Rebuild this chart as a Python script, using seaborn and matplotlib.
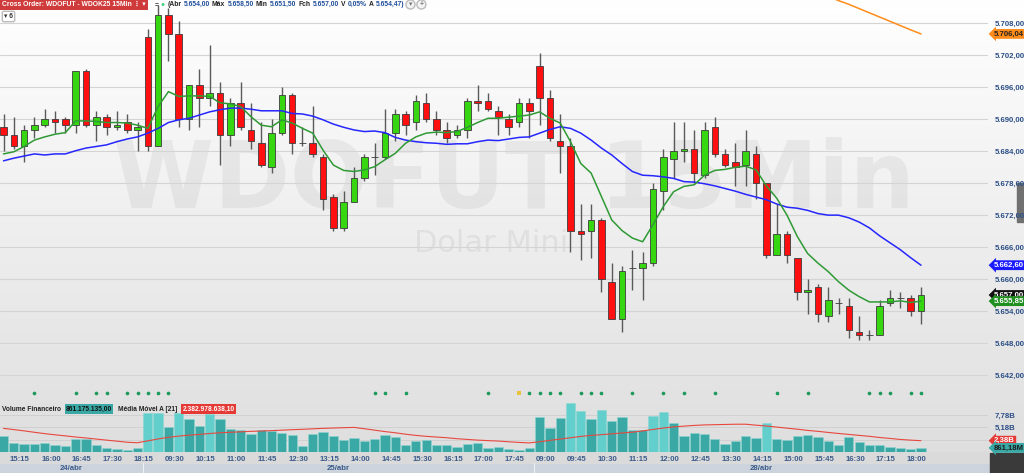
import matplotlib.pyplot as plt
import numpy as np
import pandas as pd
import seaborn as sns
from matplotlib.patches import Rectangle
from matplotlib.transforms import blended_transform_factory

# ---- dados (WDOFUT 15Min) ----
inicio_dias = ["2025-04-24 15:00", "2025-04-25 09:00", "2025-04-28 09:00"]
nomes_dias = ["24/abr", "25/abr", "28/abr"]
candles_por_dia = [14, 38, 38]
rotulos_por_dia = [
    ["15:15", "16:00", "16:45", "17:30", "18:15"],
    ["09:30", "10:15", "11:00", "11:45", "12:30", "13:15", "14:00", "14:45",
     "15:30", "16:15", "17:00", "17:45"],
    ["09:00", "09:45", "10:30", "11:15", "12:00", "12:45", "13:30", "14:15",
     "15:00", "15:45", "16:30", "17:15", "18:00"],
]

abertura = [5688.5, 5687.0, 5685.0, 5688.0, 5689.0, 5690.0, 5690.0, 5689.0, 5699.0, 5689.0,
            5690.5, 5688.5, 5689.5, 5688.0, 5705.5, 5685.0, 5709.5, 5706.0, 5690.0, 5696.5,
            5694.0, 5695.0, 5687.0, 5693.0, 5688.0, 5685.5, 5681.0, 5687.5, 5694.5, 5685.5,
            5685.5, 5683.0, 5675.5, 5669.5, 5674.5, 5679.0, 5683.0, 5683.0, 5687.5, 5691.0,
            5689.5, 5693.0, 5690.0, 5688.0, 5687.0, 5688.0, 5693.5, 5693.5, 5691.5, 5690.0,
            5689.5, 5693.0, 5700.0, 5694.0, 5686.0, 5685.0, 5669.0, 5669.0, 5671.0, 5659.5,
            5652.5, 5662.0, 5662.0, 5663.0, 5676.5, 5682.5, 5684.0, 5684.5, 5679.5, 5688.5,
            5683.5, 5682.0, 5681.5, 5683.5, 5678.0, 5664.5, 5668.5, 5664.0, 5657.5, 5658.5,
            5653.0, 5655.5, 5655.0, 5650.0, 5649.5, 5649.5, 5655.5, 5656.5, 5656.5, 5654.0]
maxima = [5691.0, 5690.5, 5689.0, 5690.5, 5692.0, 5691.5, 5690.5, 5699.0, 5699.5, 5691.5,
          5691.0, 5691.5, 5691.0, 5689.5, 5707.0, 5711.5, 5711.0, 5708.5, 5696.5, 5699.5,
          5704.0, 5697.0, 5694.0, 5697.0, 5693.0, 5689.5, 5690.0, 5696.0, 5695.0, 5688.5,
          5692.5, 5683.5, 5676.0, 5676.5, 5681.0, 5683.5, 5685.5, 5692.0, 5692.0, 5691.5,
          5694.5, 5695.0, 5691.5, 5689.5, 5689.0, 5694.0, 5696.5, 5695.0, 5692.5, 5691.0,
          5694.0, 5694.0, 5702.5, 5695.5, 5691.0, 5686.5, 5674.0, 5674.0, 5671.5, 5663.0,
          5662.5, 5665.5, 5665.0, 5678.0, 5684.5, 5689.5, 5689.5, 5688.0, 5689.5, 5690.5,
          5684.5, 5685.5, 5688.0, 5685.0, 5678.0, 5674.0, 5669.0, 5664.0, 5660.0, 5659.0,
          5658.5, 5656.5, 5656.5, 5653.0, 5650.5, 5656.0, 5658.0, 5657.5, 5657.0, 5658.5]
minima = [5684.0, 5684.5, 5682.0, 5686.5, 5688.5, 5687.5, 5687.5, 5687.5, 5688.5, 5686.0,
          5687.0, 5688.0, 5687.5, 5684.0, 5684.0, 5685.0, 5701.0, 5688.5, 5688.0, 5688.5,
          5692.5, 5681.5, 5685.0, 5688.0, 5684.5, 5681.0, 5680.0, 5687.0, 5683.5, 5685.0,
          5683.0, 5673.0, 5669.0, 5669.0, 5674.5, 5678.5, 5679.5, 5682.5, 5686.0, 5687.0,
          5688.0, 5689.5, 5687.0, 5685.5, 5686.5, 5686.5, 5691.5, 5691.5, 5687.0, 5687.0,
          5688.5, 5686.5, 5689.0, 5686.0, 5680.0, 5665.0, 5663.5, 5664.0, 5657.5, 5652.5,
          5650.0, 5658.0, 5656.0, 5662.5, 5673.0, 5679.0, 5682.0, 5678.0, 5679.0, 5683.0,
          5681.0, 5677.5, 5677.5, 5675.0, 5664.0, 5664.5, 5663.0, 5656.0, 5653.5, 5652.0,
          5652.0, 5653.5, 5649.0, 5648.5, 5648.5, 5649.5, 5655.0, 5654.5, 5653.0, 5651.5]
fechamento = [5687.0, 5685.0, 5688.0, 5689.0, 5690.0, 5689.5, 5689.0, 5699.0, 5689.0, 5690.5,
              5688.5, 5689.0, 5688.0, 5688.5, 5685.0, 5709.5, 5706.0, 5690.0, 5696.5, 5694.0,
              5695.0, 5687.0, 5693.0, 5688.5, 5686.0, 5681.5, 5687.5, 5694.5, 5685.5, 5685.5,
              5683.5, 5675.0, 5669.5, 5674.5, 5679.0, 5683.0, 5683.0, 5687.5, 5691.0, 5689.0,
              5693.5, 5690.0, 5688.0, 5686.5, 5688.0, 5693.5, 5693.0, 5692.0, 5690.5, 5688.5,
              5693.0, 5691.5, 5694.0, 5686.5, 5685.0, 5669.0, 5668.5, 5671.0, 5660.0, 5652.5,
              5661.5, 5662.0, 5663.0, 5677.0, 5683.0, 5684.0, 5684.5, 5680.0, 5688.0, 5683.5,
              5681.5, 5681.0, 5684.0, 5678.0, 5664.5, 5668.5, 5664.5, 5657.5, 5658.0, 5653.5,
              5656.0, 5655.5, 5650.5, 5649.5, 5649.5, 5655.0, 5656.5, 5656.5, 5654.0, 5657.0]

media_curta = [5683.5, 5683.9, 5684.9, 5686.1, 5686.7, 5687.2, 5687.5, 5689.7, 5689.7, 5689.6,
               5689.4, 5689.4, 5689.3, 5688.9, 5688.3, 5692.4, 5695.2, 5694.3, 5694.4, 5694.4,
               5694.3, 5693.1, 5692.9, 5692.4, 5690.5, 5688.9, 5688.6, 5689.9, 5689.3, 5688.3,
               5687.4, 5684.2, 5681.4, 5680.4, 5680.2, 5680.5, 5681.1, 5682.4, 5683.6, 5685.5,
               5686.7, 5687.4, 5687.6, 5687.5, 5687.7, 5688.5, 5689.4, 5690.2, 5690.2, 5690.4,
               5690.6, 5690.8, 5691.4, 5690.2, 5689.3, 5685.8, 5681.7, 5679.9, 5675.5, 5671.1,
               5669.1, 5667.7, 5667.0, 5670.2, 5673.6, 5676.4, 5677.4, 5677.7, 5679.5, 5680.4,
               5680.6, 5681.0, 5681.2, 5680.5, 5677.5, 5675.2, 5672.0, 5668.0, 5664.8, 5663.0,
               5661.4, 5659.5, 5657.9, 5656.7, 5655.7, 5655.7, 5655.7, 5655.9, 5655.6, 5655.85]
media_longa = [5682.2, 5682.7, 5683.1, 5683.5, 5683.3, 5683.5, 5683.5, 5684.1, 5684.6, 5684.9,
               5685.2, 5685.8, 5686.3, 5686.7, 5687.4, 5688.3, 5689.4, 5689.9, 5690.2, 5690.8,
               5691.4, 5691.8, 5692.1, 5692.1, 5691.9, 5691.6, 5691.6, 5691.6, 5691.1, 5691.0,
               5690.6, 5689.9, 5689.1, 5688.5, 5688.0, 5687.7, 5687.8, 5687.5, 5686.6, 5686.1,
               5685.8, 5685.6, 5685.5, 5685.3, 5685.4, 5685.4, 5685.8, 5686.1, 5686.0, 5686.3,
               5686.6, 5686.7, 5687.4, 5688.1, 5688.6, 5688.3, 5687.4, 5686.1, 5684.6, 5683.3,
               5681.7, 5680.2, 5679.5, 5679.4, 5679.2, 5678.9, 5678.3, 5678.2, 5677.9, 5677.5,
               5677.0, 5676.5, 5675.9, 5675.4, 5674.9, 5674.1, 5673.5, 5673.3, 5672.9, 5672.3,
               5672.0, 5672.0, 5671.5, 5670.7, 5669.6, 5668.1, 5666.8, 5665.5, 5664.0, 5662.6]
inicio_laranja = 80
media_laranja = [5713.1, 5712.3, 5711.6, 5710.8, 5710.0, 5709.2, 5708.4, 5707.6, 5706.8, 5706.04]

volume_bi = [3.34, 1.93, 1.65, 1.65, 2.00, 1.37, 1.16, 2.70, 2.64, 1.50,
             0.80, 0.66, 0.44, 0.80, 8.27, 8.27, 5.31, 8.27, 6.87, 5.52,
             7.99, 6.87, 4.82, 4.67, 3.76, 4.61, 4.46, 4.04, 3.55, 1.23,
             3.83, 4.25, 3.34, 2.49, 2.85, 2.35, 2.64, 3.49, 3.13, 1.50,
             2.28, 2.43, 1.50, 1.50, 0.95, 1.65, 2.00, 0.74, 1.01, 0.55,
             0.40, 0.80, 7.42, 5.10, 7.08, 10.25, 8.69, 6.87, 8.90, 6.51,
             7.42, 4.54, 4.61, 7.63, 8.48, 6.15, 3.40, 4.04, 3.76, 2.77,
             1.71, 2.28, 3.40, 2.92, 6.15, 2.77, 2.56, 3.34, 3.61, 3.13,
             2.35, 1.37, 3.13, 2.07, 1.37, 1.37, 1.08, 0.74, 0.59, 0.86]
volume_media_bi = [4.97, 4.72, 4.45, 4.15, 3.87, 3.62, 3.40, 3.15, 2.95, 2.72,
                   2.50, 2.28, 2.05, 1.95, 2.35, 2.75, 3.10, 3.35, 3.55, 3.70,
                   3.90, 4.05, 4.15, 4.25, 4.35, 4.42, 4.50, 4.60, 4.70, 4.78,
                   4.88, 4.98, 5.05, 5.12, 5.18, 4.90, 4.60, 4.30, 4.05, 3.75,
                   3.50, 3.30, 3.15, 3.00, 2.80, 2.65, 2.50, 2.40, 2.30, 2.15,
                   2.02, 1.92, 2.15, 2.45, 2.72, 3.00, 3.28, 3.50, 3.65, 3.82,
                   4.00, 4.17, 4.45, 4.75, 5.05, 5.28, 5.45, 5.60, 5.70, 5.75,
                   5.80, 5.85, 5.85, 5.65, 5.47, 5.25, 5.02, 4.80, 4.55, 4.35,
                   4.12, 3.90, 3.70, 3.50, 3.30, 3.05, 2.85, 2.64, 2.50, 2.38]
volume_forte = [14, 15, 17, 20, 55, 56, 58, 63, 64, 74]
sinais_verdes = [3, 7, 9, 10, 12, 13, 14, 15, 16, 36, 37, 39, 47, 51, 52, 53, 54, 56, 57, 58,
                 61, 64, 66, 69, 75, 78, 84, 85, 86, 88, 89]
sinais_amarelos = [50]

# ---- montagem ----
horas = []
for ini, n in zip(inicio_dias, candles_por_dia):
    horas += list(pd.date_range(ini, periods=n, freq="15min"))
df = pd.DataFrame({"hora": horas, "abertura": abertura, "maxima": maxima, "minima": minima,
                   "fechamento": fechamento, "volume": volume_bi, "media_vol": volume_media_bi,
                   "curta": media_curta, "longa": media_longa})
df["x"] = np.arange(len(df))

W, H = 1024, 473
XMIN, XMAX = -0.34, 95.5
sns.set_theme(style="white")
plt.rcParams["font.family"] = ["Liberation Sans", "DejaVu Sans"]

fig = plt.figure(figsize=(W / 100, H / 100), dpi=100)

# fundo em degrade (branco no topo, cinza embaixo)
bg = fig.add_axes([0, 0, 1, 1], zorder=-5)
grad = np.linspace(0.0, 1.0, 256).reshape(-1, 1)
bg.imshow(grad, aspect="auto", cmap=sns.blend_palette(["#dddddd", "#ffffff"], as_cmap=True),
          extent=[0, 1, 0, 1], origin="lower")
bg.set_xlim(0, 1)
bg.set_ylim(0, 1)
bg.axis("off")
fig.add_artist(Rectangle((0, 0), 1, 10.5 / H, transform=fig.transFigure, color="#ccd3dc", zorder=-4))
fig.add_artist(Rectangle((0, 10.5 / H), 1, 10.5 / H, transform=fig.transFigure, color="#dadada", zorder=-4))
fig.add_artist(Rectangle((990 / W, 0), 34 / W, 20 / H, transform=fig.transFigure, color="#3a3a3a", zorder=-3))
fig.add_artist(Rectangle((1017 / W, 1 - 222 / H), 7 / W, 39 / H, transform=fig.transFigure,
                         color="#707070", zorder=-3))

AX_R = 988 / W
ax = fig.add_axes([0, 1 - 400 / H, AX_R, 400 / H])
axv = fig.add_axes([0, 1 - 452 / H, AX_R, 52 / H])
for a in (ax, axv):
    a.set_facecolor("none")
    for s in a.spines.values():
        s.set_visible(False)
    a.set_axisbelow(True)

# marca d'agua
ax.text(0.52, 0.545, "WDOFUT 15Min", transform=ax.transAxes, ha="center", va="center",
        fontsize=66, fontweight="bold", family="DejaVu Sans", color="black", alpha=0.05, zorder=0.5)
ax.text(0.497, 0.3925, "Dolar Mini", transform=ax.transAxes, ha="center", va="center",
        fontsize=22, family="DejaVu Sans", color="black", alpha=0.055, zorder=0.5)

# candles
verde, vermelho = "#36d611", "#ff0f0f"
ax.vlines(df["x"], df["minima"], df["maxima"], color="#5a5a5a", lw=1.0, zorder=2)
alta = df["fechamento"] >= df["abertura"]
cores = np.where(alta, verde, vermelho)
base = df[["abertura", "fechamento"]].min(axis=1)
altura = (df["fechamento"] - df["abertura"]).abs()
ax.bar(df["x"], altura, bottom=base, width=0.64, color=cores, edgecolor="#3c3c3c", lw=0.6, zorder=3)

# medias
sns.lineplot(x=df["x"], y=df["longa"], ax=ax, color="#2626ff", lw=1.1, sort=False, zorder=4)
sns.lineplot(x=df["x"], y=df["curta"], ax=ax, color="#2f9a35", lw=1.1, sort=False, zorder=4)
sns.lineplot(x=np.arange(inicio_laranja, inicio_laranja + len(media_laranja)), y=media_laranja,
             ax=ax, color="#ff8c1a", lw=1.1, zorder=4)

# sinais
nivel_sinal = 5638.6
sns.scatterplot(x=sinais_verdes, y=[nivel_sinal] * len(sinais_verdes), ax=ax, color="#1f9a5c",
                s=7, linewidth=0, zorder=5)
sns.scatterplot(x=sinais_amarelos, y=[nivel_sinal] * len(sinais_amarelos), ax=ax, color="#e8c23a",
                s=9, marker="s", linewidth=0, zorder=5)
ax.set_ylim(5637.28, 5712.41)
ax.set_xlim(XMIN, XMAX)
ax.set_xlabel("")
ax.set_ylabel("")


def br(v, casas=2):
    return f"{v:,.{casas}f}".replace(",", "X").replace(".", ",").replace("X", ".")


niveis = np.arange(5642, 5709, 6)
ax.set_yticks(niveis)
ax.set_yticklabels([br(v) for v in niveis])
ax.yaxis.tick_right()
ax.tick_params(axis="y", length=0, pad=5, labelsize=5.6, labelcolor="#2c4f86")
for t in ax.get_yticklabels():
    t.set_fontweight("bold")
ax.set_xticks([])
ax.grid(axis="y", color="#d4d4d4", lw=0.8)

# etiquetas de preco a direita
trans = blended_transform_factory(ax.transAxes, ax.transData)
etiquetas = [(media_laranja[-1], "#ff8c1a", "#222222"), (media_longa[-1], "#1a1aff", "white"),
             (fechamento[-1], "#111111", "white"), (media_curta[-1], "#1f8f1f", "white")]
for v, fundo, cor in etiquetas:
    ax.text(1.006, v, br(v), transform=trans, ha="left", va="center", fontsize=5.6,
            fontweight="bold", color=cor, clip_on=False, zorder=6,
            bbox=dict(boxstyle="larrow,pad=0.18", fc=fundo, ec="none"))

# volume
cores_vol = ["#62cfcc" if i in volume_forte else "#3aa9a5" for i in df["x"]]
axv.bar(df["x"], df["volume"], width=0.9, color=cores_vol, edgecolor="#8ad6d3", lw=0.4, zorder=2)
sns.lineplot(x=df["x"], y=df["media_vol"], ax=axv, color="#e8473e", lw=0.8, sort=False, zorder=3)
axv.set_xlim(XMIN, XMAX)
axv.set_ylim(0, 10.95)
axv.set_xlabel("")
axv.set_ylabel("")
axv.set_yticks([2.594, 5.18, 7.78])
axv.set_yticklabels(["", "5,18B", "7,78B"])
axv.yaxis.tick_right()
axv.tick_params(axis="y", length=0, pad=5, labelsize=5.6, labelcolor="#2c4f86")
for t in axv.get_yticklabels():
    t.set_fontweight("bold")
axv.grid(axis="y", color="#d0d0d0", lw=0.7)
transv = blended_transform_factory(axv.transAxes, axv.transData)
for v, txt, fundo, cor in [(volume_media_bi[-1], "2,38B", "#e53935", "white"),
                           (volume_bi[-1], "861,18M", "#3aa9a5", "#1b1b1b")]:
    axv.text(1.006, v, txt, transform=transv, ha="left", va="center", fontsize=5.6,
             fontweight="bold", color=cor, clip_on=False, zorder=6,
             bbox=dict(boxstyle="larrow,pad=0.18", fc=fundo, ec="none"))

# eixo do tempo
deslocamento_rotulo = 0.6
pos, rot = [], []
ini = 0
for n, rotulos in zip(candles_por_dia, rotulos_por_dia):
    for i in range(ini, ini + n):
        h = df["hora"][i].strftime("%H:%M")
        if h in rotulos:
            pos.append(i + deslocamento_rotulo)
            rot.append(h)
    ini += n
axv.set_xticks(pos)
axv.set_xticklabels(rot)
axv.tick_params(axis="x", length=0, pad=3, labelsize=5.6, labelcolor="#3b5b8a")
for t in axv.get_xticklabels():
    t.set_fontweight("bold")

limites = [XMIN] + list(np.cumsum(candles_por_dia)[:-1] - 0.5) + [XMAX]
tdia = blended_transform_factory(axv.transData, fig.transFigure)
for k, nome in enumerate(nomes_dias):
    c = (limites[k] + limites[k + 1]) / 2
    axv.text(c, 1 - 468.5 / H, nome, transform=tdia, ha="center", va="center", fontsize=5.6,
             fontweight="bold", color="#3b5b8a", clip_on=False)
    if k > 0:
        axv.plot([limites[k]] * 2, [0, 10.5 / H], transform=tdia, color="#eef1f5", lw=0.8,
                 clip_on=False)

# cabecalhos em serie
fig.canvas.draw()
rend = fig.canvas.get_renderer()


def em_serie(x_px, y_px, partes, gap=3, tam=4.9):
    x = x_px
    for txt, cor, extra in partes:
        caixa = "bbox" in extra
        t = fig.text((x + (2 if caixa else 0)) / W, 1 - y_px / H, txt, color=cor, ha="left",
                     va="center", fontsize=tam, fontweight="bold", **extra)
        bb = t.get_window_extent(renderer=rend)
        x = bb.x1 + gap + (3 if caixa else 0)
    return x


fim = em_serie(0, 4.5, [("Cross Order: WDOFUT - WDOK25 15Min \u22ee \u25be", "white",
                         dict(bbox=dict(boxstyle="square,pad=0.3", fc="#cf3b3b", ec="none")))])
azul = "#1f4e9c"
em_serie(max(fim + 3, 143), 4.5,
         [("=", "#333333", {}), ("\u25cf", "#3ccf7a", {}), ("(Abr", "#222222", {}),
          ("5.654,00", azul, {}), ("Máx", "#222222", {}), ("5.658,50", azul, {}),
          ("Min", "#222222", {}), ("5.651,50", azul, {}), ("Fch", "#222222", {}),
          ("5.657,00", azul, {}), ("V", "#222222", {}), ("0,05%", azul, {}),
          ("A", "#222222", {}), ("5.654,47)", azul, {}),
          ("\u25be", "#777777", dict(bbox=dict(boxstyle="circle,pad=0.15", fc="#f4f4f4", ec="#bbbbbb"))),
          ("+", "#777777", dict(bbox=dict(boxstyle="circle,pad=0.15", fc="#f4f4f4", ec="#bbbbbb")))],
         gap=2.2)
em_serie(2, 16.5, [("\u25be 6", "#333333", dict(bbox=dict(boxstyle="round,pad=0.25", fc="white", ec="#bbbbbb")))])
em_serie(2, 409, [("Volume Financeiro", "#222222", {}),
                  ("861.175.135,00", "#111111", dict(bbox=dict(boxstyle="square,pad=0.18", fc="#3aa9a5", ec="none"))),
                  ("Média Móvel A [21]", "#222222", {}),
                  ("2.382.978.638,10", "white", dict(bbox=dict(boxstyle="square,pad=0.18", fc="#e53935", ec="none")))],
         tam=4.8)

fig.savefig("out.png", dpi=100)
